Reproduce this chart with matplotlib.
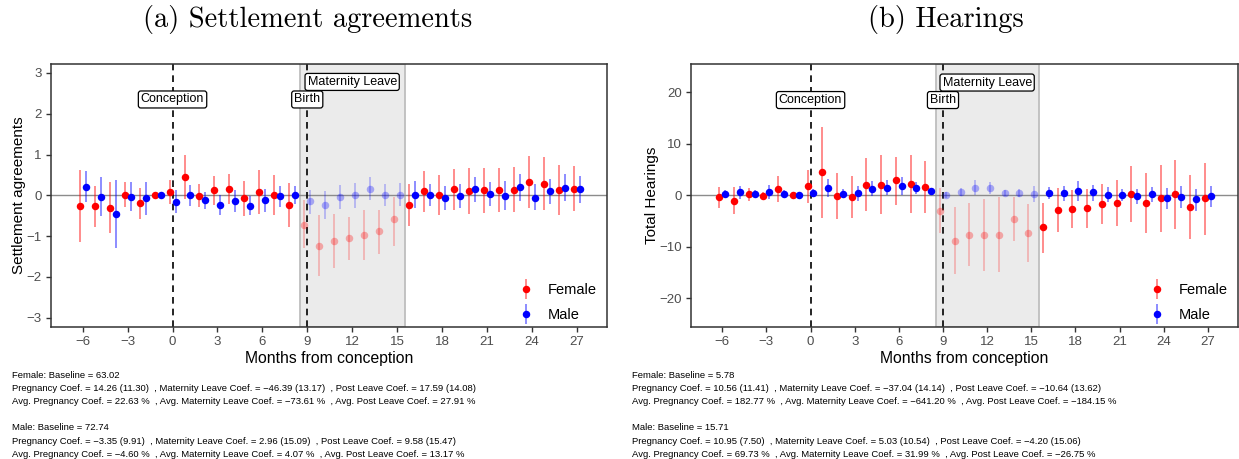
import matplotlib
matplotlib.use("Agg")
import matplotlib.pyplot as plt
import numpy as np
from matplotlib.lines import Line2D
from matplotlib.legend_handler import HandlerTuple

plt.rcParams["font.family"] = ["Liberation Sans", "DejaVu Sans"]

months = list(range(-6, 28))
leave_months = list(range(9, 16))

# (a) settlement agreements
sa_female = [-0.25, -0.27, -0.30, 0.02, -0.19, 0.00, 0.07, 0.45, -0.01, 0.12, 0.15, -0.07, 0.08, 0.02, -0.24,
             -0.72, -1.24, -1.12, -1.05, -0.97, -0.88, -0.58,
             -0.24, 0.10, 0.00, 0.15, 0.11, 0.12, 0.12, 0.14, 0.32, 0.29, 0.13, 0.16]
sa_female_lo = [-1.14, -0.78, -0.93, -0.29, -0.58, -0.04, -0.22, -0.08, -0.29, -0.24, -0.21, -0.51, -0.45, -0.47, -0.78,
                -1.28, -1.98, -1.77, -1.58, -1.58, -1.44, -1.23,
                -0.76, -0.41, -0.49, -0.35, -0.45, -0.44, -0.42, -0.42, -0.32, -0.35, -0.49, -0.39]
sa_female_hi = [0.63, 0.22, 0.32, 0.32, 0.18, 0.04, 0.37, 0.99, 0.29, 0.47, 0.52, 0.34, 0.62, 0.51, 0.31,
                -0.12, -0.49, -0.45, -0.52, -0.37, -0.35, -0.04,
                0.27, 0.59, 0.49, 0.64, 0.67, 0.66, 0.66, 0.70, 0.96, 0.93, 0.74, 0.72]
sa_male = [0.21, -0.03, -0.45, -0.03, -0.07, 0.00, -0.16, 0.00, -0.12, -0.23, -0.14, -0.26, -0.12, -0.02, 0.01,
           -0.15, -0.23, -0.03, 0.00, 0.16, 0.02, 0.02,
           0.02, 0.02, -0.07, -0.01, 0.15, 0.04, -0.01, 0.20, -0.06, 0.10, 0.19, 0.15]
sa_male_lo = [-0.16, -0.51, -1.28, -0.39, -0.48, -0.04, -0.44, -0.25, -0.34, -0.47, -0.41, -0.49, -0.41, -0.29, -0.22,
              -0.45, -0.58, -0.33, -0.31, -0.11, -0.26, -0.26,
              -0.30, -0.26, -0.35, -0.30, -0.16, -0.26, -0.35, -0.14, -0.37, -0.22, -0.14, -0.18]
sa_male_hi = [0.59, 0.44, 0.37, 0.32, 0.32, 0.04, 0.12, 0.25, 0.08, 0.00, 0.12, -0.02, 0.16, 0.22, 0.24,
              0.12, 0.10, 0.25, 0.30, 0.44, 0.29, 0.30,
              0.35, 0.29, 0.23, 0.27, 0.45, 0.33, 0.35, 0.53, 0.27, 0.41, 0.53, 0.47]

# (b) hearings
hr_female = [-0.3, -1.0, 0.3, -0.1, 1.3, 0.0, 1.8, 4.5, -0.1, -0.3, 2.1, 2.1, 2.9, 2.3, 1.7,
             -3.0, -8.8, -7.6, -7.6, -7.6, -4.6, -7.3,
             -6.2, -2.8, -2.7, -2.4, -1.7, -1.5, 0.3, -1.5, -0.6, 0.2, -2.2, -0.6]
hr_female_lo = [-2.4, -3.7, -1.0, -0.8, -1.3, -0.3, -1.4, -4.4, -4.6, -4.4, -3.1, -3.7, -1.8, -3.4, -3.4,
                -7.4, -15.3, -13.8, -14.6, -14.9, -8.8, -12.9,
                -11.1, -7.1, -6.4, -6.3, -5.6, -6.0, -5.1, -7.4, -7.1, -6.5, -8.5, -7.7]
hr_female_hi = [1.6, 1.7, 1.5, 0.6, 3.8, 0.3, 4.9, 13.3, 4.3, 3.8, 7.2, 7.8, 7.5, 7.9, 6.7,
                1.4, -2.2, -1.4, -0.8, -0.3, -0.3, -1.7,
                -1.5, 1.4, 1.1, 1.3, 2.2, 2.9, 5.7, 4.4, 5.8, 6.9, 4.0, 6.3]
hr_male = [0.3, 0.6, 0.2, 0.6, 0.3, 0.0, 0.4, 1.4, 0.3, 0.4, 1.3, 1.4, 1.8, 1.4, 0.8,
           0.0, 0.6, 1.4, 1.4, 0.4, 0.4, 0.3,
           0.4, 0.5, 0.8, 0.6, 0.1, 0.1, -0.2, 0.2, -0.5, -0.3, -0.8, -0.1]
hr_male_lo = [-0.4, -0.8, -0.4, -0.8, -0.3, -0.2, -0.3, -0.3, -0.6, -1.0, -0.1, 0.0, 0.0, 0.2, 0.2,
              -0.6, -0.1, 0.0, 0.2, -0.2, -0.4, -1.3,
              -0.8, -1.0, -1.1, -1.0, -1.3, -1.0, -1.7, -1.3, -2.6, -2.4, -3.0, -2.2]
hr_male_hi = [1.1, 1.9, 1.0, 2.1, 1.0, 0.2, 1.3, 3.2, 1.3, 1.9, 2.8, 2.9, 3.5, 2.6, 1.5,
              0.6, 1.4, 2.9, 2.6, 1.1, 1.3, 1.8,
              1.7, 1.9, 2.8, 2.1, 1.6, 1.2, 1.3, 1.7, 1.4, 1.8, 1.3, 1.9]

titles = ["(a) Settlement agreements", "(b) Hearings"]
ylabels = ["Settlement agreements", "Total Hearings"]

notes_a = [
    "Female: Baseline = 63.02",
    "Pregnancy Coef. = 14.26 (11.30)  , Maternity Leave Coef. = \u221246.39 (13.17)  , Post Leave Coef. = 17.59 (14.08)",
    "Avg. Pregnancy Coef. = 22.63 %  , Avg. Maternity Leave Coef. = \u221273.61 %  , Avg. Post Leave Coef. = 27.91 %",
    "",
    "Male: Baseline = 72.74",
    "Pregnancy Coef. = \u22123.35 (9.91)  , Maternity Leave Coef. = 2.96 (15.09)  , Post Leave Coef. = 9.58 (15.47)",
    "Avg. Pregnancy Coef. = \u22124.60 %  , Avg. Maternity Leave Coef. = 4.07 %  , Avg. Post Leave Coef. = 13.17 %",
]
notes_b = [
    "Female: Baseline = 5.78",
    "Pregnancy Coef. = 10.56 (11.41)  , Maternity Leave Coef. = \u221237.04 (14.14)  , Post Leave Coef. = \u221210.64 (13.62)",
    "Avg. Pregnancy Coef. = 182.77 %  , Avg. Maternity Leave Coef. = \u2212641.20 %  , Avg. Post Leave Coef. = \u2212184.15 %",
    "",
    "Male: Baseline = 15.71",
    "Pregnancy Coef. = 10.95 (7.50)  , Maternity Leave Coef. = 5.03 (10.54)  , Post Leave Coef. = \u22124.20 (15.06)",
    "Avg. Pregnancy Coef. = 69.73 %  , Avg. Maternity Leave Coef. = 31.99 %  , Avg. Post Leave Coef. = \u221226.75 %",
]

RED = "#FF0000"
BLUE = "#0000FF"
GREY_TXT = "#4D4D4D"


def draw_series(ax, x, est, lo, hi, color, leave):
    x = np.asarray(x, float)
    est, lo, hi = map(np.asarray, (est, lo, hi))
    for faded in (False, True):
        m = leave if faded else ~leave
        ax.vlines(x[m], lo[m], hi[m], colors=color, alpha=0.22 if faded else 0.45,
                  linewidth=1.4, zorder=3)
        ax.plot(x[m], est[m], "o", color=color, alpha=0.3 if faded else 1.0,
                markersize=5.4, markeredgewidth=0, zorder=4)


def panel(ax, fem, fem_lo, fem_hi, mal, mal_lo, mal_hi, ylim, yticks, ylabel, lab_y, mat_y):
    mo = np.array(months)
    leave = np.isin(mo, leave_months)
    ax.axvspan(8.5, 15.5, facecolor="#EBEBEB", edgecolor="#BEBEBE", linewidth=1.3, zorder=0)
    ax.axhline(0, color="#8C8C8C", linewidth=1.0, zorder=1)
    for v in (0, 9):
        ax.axvline(v, color="black", linestyle=(0, (4, 3)), linewidth=1.2, zorder=2)
    draw_series(ax, mo - 0.2, fem, fem_lo, fem_hi, RED, leave)
    draw_series(ax, mo + 0.2, mal, mal_lo, mal_hi, BLUE, leave)

    box = dict(boxstyle="round,pad=0.2,rounding_size=0.2", facecolor="white", edgecolor="black", linewidth=0.9)
    ax.text(0, lab_y, "Conception", ha="center", va="center", fontsize=9, bbox=box, zorder=6)
    ax.text(9, lab_y, "Birth", ha="center", va="center", fontsize=9, bbox=box, zorder=6)
    ax.text(12, mat_y, "Maternity Leave", ha="center", va="center", fontsize=9, bbox=box, zorder=6)

    ax.set_xlim(-8.1, 29.05)
    ax.set_ylim(*ylim)
    ax.set_xticks(range(-6, 28, 3))
    ax.set_yticks(yticks)
    ax.tick_params(colors="#333333", labelcolor=GREY_TXT, labelsize=9.5, length=3.5, width=1.0)
    for s in ax.spines.values():
        s.set_color("#333333")
        s.set_linewidth(1.1)
    ax.set_xlabel("Months from conception", fontsize=11.3, labelpad=2)
    ax.set_ylabel(ylabel, fontsize=11, labelpad=0)

    h_f = (Line2D([], [], marker="|", markersize=15, markeredgewidth=1.4, color=RED, alpha=0.45, linestyle="none"),
           Line2D([], [], marker="o", markersize=5.4, markeredgewidth=0, color=RED, linestyle="none"))
    h_m = (Line2D([], [], marker="|", markersize=15, markeredgewidth=1.4, color=BLUE, alpha=0.45, linestyle="none"),
           Line2D([], [], marker="o", markersize=5.4, markeredgewidth=0, color=BLUE, linestyle="none"))
    ax.legend([h_f, h_m], ["Female", "Male"], handler_map={tuple: HandlerTuple(ndivide=1)},
              loc="lower right", bbox_to_anchor=(0.992, -0.004), frameon=False, fontsize=10.5,
              handlelength=1.0, labelspacing=0.76, handletextpad=1.0, borderaxespad=0)


fig = plt.figure(figsize=(12.39, 4.59), dpi=100)
ax_a = fig.add_axes([0.0414, 0.2882, 0.4488, 0.5724])
ax_b = fig.add_axes([0.558, 0.2882, 0.4412, 0.5724])

panel(ax_a, sa_female, sa_female_lo, sa_female_hi, sa_male, sa_male_lo, sa_male_hi,
      (-3.22, 3.22), range(-3, 4), ylabels[0], 2.35, 2.78)
panel(ax_b, hr_female, hr_female_lo, hr_female_hi, hr_male, hr_male_lo, hr_male_hi,
      (-25.5, 25.5), range(-20, 21, 10), ylabels[1], 18.5, 21.9)

fig.text(308 / 1239, 1 - 19 / 459, titles[0], ha="center", va="center", fontsize=20.5, family="cmr10")
fig.text(946 / 1239, 1 - 19 / 459, titles[1], ha="center", va="center", fontsize=20.5, family="cmr10")

# footnote lines placed one by one
for x0, notes in ((12, notes_a), (632, notes_b)):
    for i, line in enumerate(notes):
        if line:
            fig.text(x0 / 1239, 1 - (375 + 13.2 * i) / 459, line, ha="left", va="center", fontsize=6.8)

fig.savefig("out.png", dpi=100)
